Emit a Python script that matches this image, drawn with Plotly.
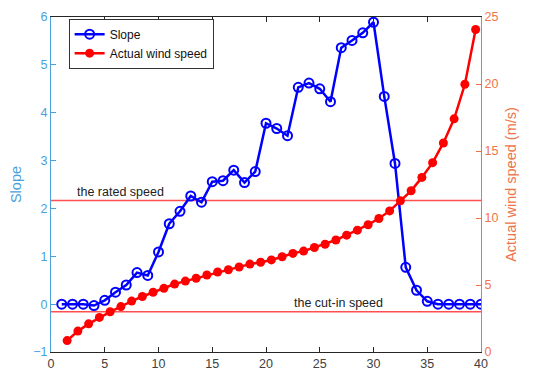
import plotly.graph_objects as go

slope_x = list(range(1, 41))
slope_y = [0, 0, 0, -0.03, 0.08, 0.25, 0.4, 0.66, 0.6, 1.09,
           1.68, 1.94, 2.26, 2.13, 2.56, 2.58, 2.8, 2.54, 2.77, 3.78,
           3.67, 3.52, 4.53, 4.62, 4.5, 4.23, 5.36, 5.51, 5.67, 5.89,
           4.34, 2.94, 0.77, 0.29, 0.06, 0, 0, 0, 0, 0]

wind_x = [i + 0.5 for i in range(1, 40)]
wind_y = [0.85, 1.56, 2.1, 2.58, 3.0, 3.39, 3.8, 4.14, 4.46, 4.75,
          5.07, 5.29, 5.5, 5.75, 5.97, 6.14, 6.34, 6.56, 6.7, 6.87,
          7.11, 7.36, 7.53, 7.8, 8.04, 8.36, 8.72, 9.09, 9.5, 9.96,
          10.53, 11.28, 12.03, 13.03, 14.13, 15.6, 17.4, 19.98, 24.07]

rated_speed = 11.3
cutin_speed = 3.0

x_ticks = [0, 5, 10, 15, 20, 25, 30, 35, 40]
y_ticks = [-1, 0, 1, 2, 3, 4, 5, 6]
y2_ticks = [0, 5, 10, 15, 20, 25]

blue_axis = "#4a9fdc"
orange_axis = "#ee7448"
font = "Liberation Sans, Arial, sans-serif"

fig = go.Figure()
fig.add_trace(go.Scatter(
    x=slope_x, y=slope_y, name="Slope", mode="lines+markers",
    line=dict(color="#0000ff", width=2.5),
    marker=dict(symbol="circle-open", size=9, color="#0000ff", line=dict(width=2)),
))
fig.add_trace(go.Scatter(
    x=wind_x, y=wind_y, name="Actual wind speed", mode="lines+markers", yaxis="y2",
    line=dict(color="#ff0000", width=2.5),
    marker=dict(symbol="circle", size=9, color="#ff0000"),
))

for val, label, tx in [(rated_speed, "the rated speed", 6.5), (cutin_speed, "the cut-in speed", 26.7)]:
    fig.add_shape(type="line", xref="x", yref="y2", x0=0, x1=40, y0=val, y1=val,
                  line=dict(color="#ff5050", width=1.5), layer="below")
    fig.add_annotation(x=tx, y=val, xref="x", yref="y2", text=label, showarrow=False,
                       xanchor="center", yanchor="bottom", yshift=0,
                       font=dict(family=font, size=12.5, color="#222222"))

fig.update_layout(
    width=537, height=381,
    margin=dict(l=51, r=56, t=10, b=29),
    paper_bgcolor="white", plot_bgcolor="white",
    font=dict(family=font, size=12),
    showlegend=True,
    legend=dict(x=0.041, y=0.995, xanchor="left", yanchor="top",
                bgcolor="white", bordercolor="#333333", borderwidth=1,
                font=dict(family=font, size=12, color="#111111"),
                tracegroupgap=0, itemwidth=30),
    xaxis=dict(range=[0, 40], tickvals=x_ticks, ticks="inside", ticklen=5,
               showline=True, linecolor="#262626", linewidth=1, mirror="ticks",
               tickcolor="#262626", showgrid=False, zeroline=False,
               tickfont=dict(color="#404040", size=12.5)),
    yaxis=dict(range=[-1, 6], tickvals=y_ticks, ticks="inside", ticklen=5,
               showline=True, linecolor=blue_axis, linewidth=1, tickcolor=blue_axis,
               showgrid=False, zeroline=False,
               tickfont=dict(color=blue_axis, size=12.5),
               title=dict(text="Slope", font=dict(color=blue_axis, size=14.5), standoff=8)),
    yaxis2=dict(range=[0, 25], tickvals=y2_ticks, ticks="inside", ticklen=5,
                overlaying="y", side="right",
                showline=True, linecolor=orange_axis, linewidth=1, tickcolor=orange_axis,
                showgrid=False, zeroline=False,
                tickfont=dict(color=orange_axis, size=12.5),
                title=dict(text="Actual wind speed (m/s)", font=dict(color=orange_axis, size=14.5), standoff=8)),
)

fig.write_html("out.html")
